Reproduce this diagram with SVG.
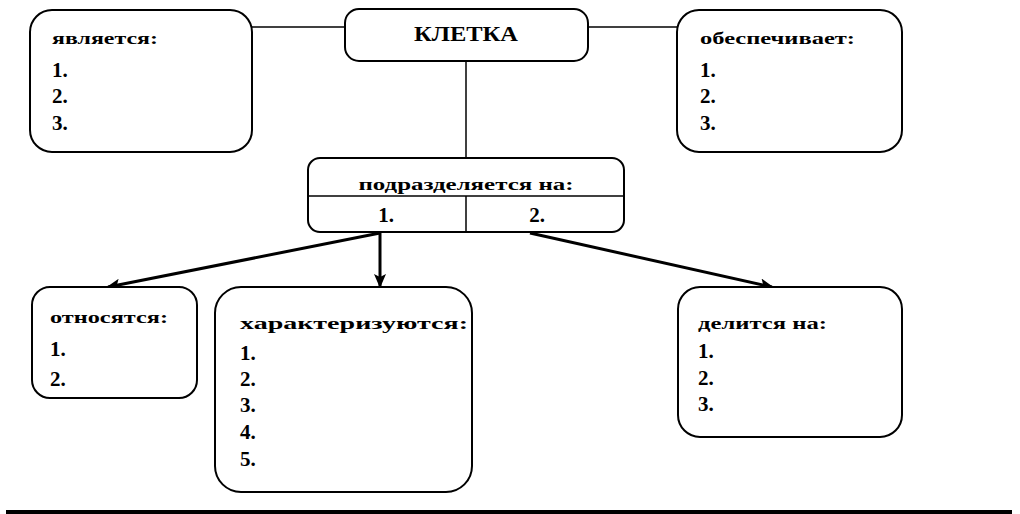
<svg xmlns="http://www.w3.org/2000/svg" width="1020" height="514" viewBox="0 0 1020 514">
<style>
.box{fill:#fff;stroke:#000;stroke-width:2}
.t{font-family:"Liberation Serif","Times New Roman",serif;font-weight:bold;font-size:17px;fill:#000}
.n{font-family:"Liberation Serif","Times New Roman",serif;font-weight:bold;font-size:21px;fill:#000}
.ln{stroke:#000;stroke-width:1.5;fill:none}
.ar{stroke:#000;stroke-width:3;fill:none}
</style>
<defs>
<marker id="ahb" markerWidth="14" markerHeight="12" refX="12" refY="6" orient="auto" markerUnits="userSpaceOnUse" viewBox="0 0 14 12">
<path d="M0,0 L14,6 L0,12 L3,6 Z" fill="#000"/>
</marker>
</defs>
<g id="connectors">
<line class="ln" x1="252" y1="27" x2="345" y2="27"/>
<line class="ln" x1="588" y1="27" x2="677" y2="27"/>
<line class="ln" x1="466" y1="62" x2="466" y2="158"/>
<line class="ar" x1="380" y1="233" x2="108" y2="287" marker-end="url(#ahb)"/>
<line class="ar" x1="380" y1="233" x2="380" y2="286" marker-end="url(#ahb)"/>
<line class="ar" x1="530" y1="233" x2="772" y2="287" marker-end="url(#ahb)"/>
</g>
<g id="node-yavlyaetsya">
<rect class="box" x="30" y="10" width="222" height="142" rx="22"/>
<text class="t" x="52" y="44" textLength="106" lengthAdjust="spacingAndGlyphs">является:</text>
<text class="n" x="52" y="77">1.</text>
<text class="n" x="52" y="103">2.</text>
<text class="n" x="52" y="130">3.</text>
</g>
<g id="node-kletka">
<rect class="box" x="345" y="9" width="243" height="52" rx="14"/>
<text class="n" x="466" y="41" text-anchor="middle" textLength="104" lengthAdjust="spacingAndGlyphs">КЛЕТКА</text>
</g>
<g id="node-obespechivaet">
<rect class="box" x="677" y="10" width="225" height="142" rx="22"/>
<text class="t" x="700" y="44" textLength="155" lengthAdjust="spacingAndGlyphs">обеспечивает:</text>
<text class="n" x="700" y="77">1.</text>
<text class="n" x="700" y="103">2.</text>
<text class="n" x="700" y="130">3.</text>
</g>
<g id="node-podrazdelyaetsya">
<rect class="box" x="308" y="158" width="316" height="74" rx="12"/>
<line class="ln" x1="308" y1="196" x2="624" y2="196"/>
<line class="ln" x1="466" y1="196" x2="466" y2="231"/>
<text class="t" x="466" y="190" text-anchor="middle" textLength="215" lengthAdjust="spacingAndGlyphs">подразделяется на:</text>
<text class="n" x="386" y="222" text-anchor="middle">1.</text>
<text class="n" x="537" y="222" text-anchor="middle">2.</text>
</g>
<g id="node-otnosyatsya">
<rect class="box" x="32" y="287" width="165" height="111" rx="18"/>
<text class="t" x="50" y="323" textLength="118" lengthAdjust="spacingAndGlyphs">относятся:</text>
<text class="n" x="50" y="356">1.</text>
<text class="n" x="50" y="386">2.</text>
</g>
<g id="node-kharakterizuyutsya">
<rect class="box" x="215" y="287" width="257" height="205" rx="26"/>
<text class="t" x="240" y="329" textLength="228" lengthAdjust="spacingAndGlyphs">характеризуются:</text>
<text class="n" x="240" y="360">1.</text>
<text class="n" x="240" y="386">2.</text>
<text class="n" x="240" y="412">3.</text>
<text class="n" x="240" y="439">4.</text>
<text class="n" x="240" y="466">5.</text>
</g>
<g id="node-delitsya">
<rect class="box" x="678" y="287" width="224" height="150" rx="22"/>
<text class="t" x="698" y="329" textLength="129" lengthAdjust="spacingAndGlyphs">делится на:</text>
<text class="n" x="698" y="358">1.</text>
<text class="n" x="698" y="385">2.</text>
<text class="n" x="698" y="411">3.</text>
</g>
<rect x="6" y="510" width="1006" height="4" fill="#000"/>
</svg>
